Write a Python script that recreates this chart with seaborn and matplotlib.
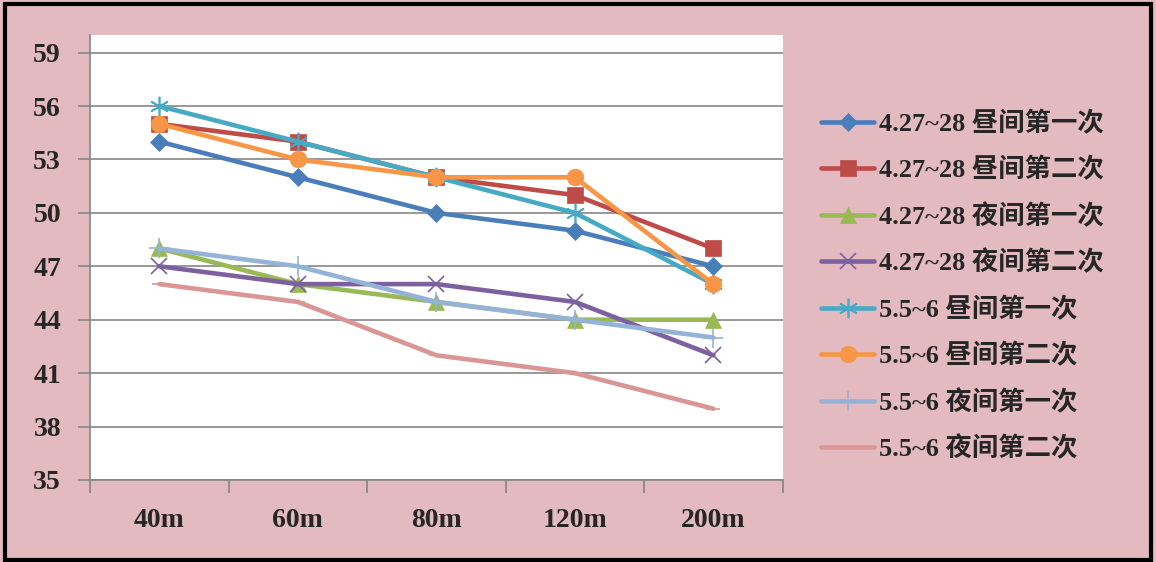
import matplotlib
matplotlib.use('Agg')
import matplotlib.pyplot as plt
import seaborn as sns
import pandas as pd
from matplotlib.patches import Rectangle

distances = ['40m', '60m', '80m', '120m', '200m']
series_names = ['4.27~28 昼间第一次', '4.27~28 昼间第二次', '4.27~28 夜间第一次', '4.27~28 夜间第二次',
                '5.5~6 昼间第一次', '5.5~6 昼间第二次', '5.5~6 夜间第一次', '5.5~6 夜间第二次']
day1_first = [54, 52, 50, 49, 47]
day1_second = [55, 54, 52, 51, 48]
night1_first = [48, 46, 45, 44, 44]
night1_second = [47, 46, 46, 45, 42]
day2_first = [56, 54, 52, 50, 46]
day2_second = [55, 53, 52, 52, 46]
night2_first = [48, 47, 45, 44, 43]
night2_second = [46, 45, 42, 41, 39]
values = [day1_first, day1_second, night1_first, night1_second,
          day2_first, day2_second, night2_first, night2_second]
y_ticks = [35, 38, 41, 44, 47, 50, 53, 56, 59]

colors = ['#4A7EBB', '#BE4B48', '#98B954', '#7D60A0', '#46AAC5', '#F79646', '#95B3D7', '#D99694']
markers = ['D', 's', '^', 'x', (6, 2, 0), 'o', '+', '_']
msizes = [9, 11, 11, 12, 14, 12, 14, 10]

rows = []
for name, vals in zip(series_names, values):
    for d, v in zip(distances, vals):
        rows.append({'距离': d, '值': v, '系列': name})
df = pd.DataFrame(rows)

sns.set_style('white')
plt.rcParams['font.family'] = ['Liberation Serif', 'Noto Sans CJK SC']
plt.rcParams['font.weight'] = 'bold'

fig = plt.figure(figsize=(11.56, 5.62), dpi=100, facecolor='#E4BAC1')
ax = fig.add_axes([0.078, 0.146, 0.599, 0.792])
ax.set_facecolor('white')

for i, name in enumerate(series_names):
    sub = df[df['系列'] == name]
    sns.lineplot(data=sub, x='距离', y='值', ax=ax, color=colors[i], linewidth=3.3,
                 marker=markers[i], markersize=msizes[i], markeredgecolor=colors[i],
                 markeredgewidth=1.2 if markers[i] in ['x', '+', '_', (6, 2, 0)] else 0.5,
                 label=name, sort=False)

ax.set_xlim(-0.5, 4.5)
ax.set_ylim(35, 60)
ax.set_yticks(y_ticks)
ax.yaxis.grid(True, color='#868686', linewidth=1.2)
ax.set_xlabel('')
ax.set_ylabel('')
for s in ['top', 'right']:
    ax.spines[s].set_visible(False)
for s in ['left', 'bottom']:
    ax.spines[s].set_color('#868686')
    ax.spines[s].set_linewidth(1.2)
ax.tick_params(axis='y', which='major', left=True, length=9, width=1.2, color='#868686',
               labelsize=20, pad=12)
ax.set_xticks(range(len(distances)))
ax.set_xticklabels(distances)
ax.set_xticks([x - 0.5 for x in range(len(distances) + 1)], minor=True)
ax.tick_params(axis='x', which='major', bottom=False, labelsize=20, pad=17)
ax.tick_params(axis='x', which='minor', bottom=True, length=9, width=1.2, color='#868686')
for lbl in ax.get_xticklabels() + ax.get_yticklabels():
    lbl.set_fontweight('bold')

ax.get_legend().remove()
handles, labels = ax.get_legend_handles_labels()
fig.legend(handles, labels, loc='upper left', bbox_to_anchor=(0.69, 0.845), frameon=False,
           prop={'size': 19, 'weight': 'bold'}, handlelength=2.0, handletextpad=0.2,
           labelspacing=0.8)

fig.patches.append(Rectangle((0.004, 0.004), 0.992, 0.988, transform=fig.transFigure,
                             fill=False, edgecolor='black', linewidth=3))

fig.savefig('out.png', dpi=100, facecolor=fig.get_facecolor())
